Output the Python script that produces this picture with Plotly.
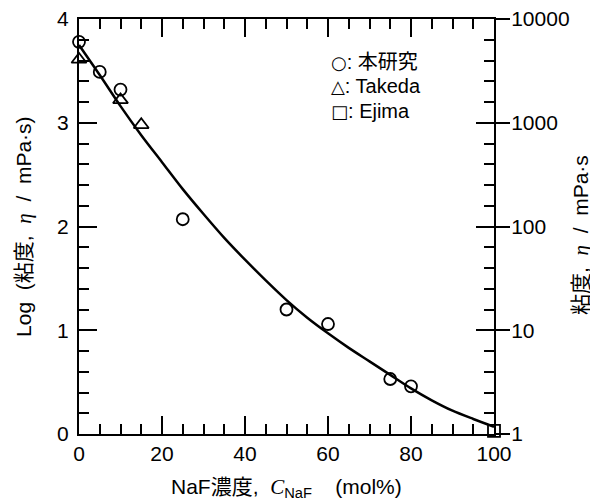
import plotly.graph_objects as go

# Data
this_x = [0, 5, 10, 25, 50, 60, 75, 80]
this_y = [3.78, 3.49, 3.32, 2.07, 1.20, 1.06, 0.53, 0.46]

takeda_x = [0, 10, 15]
takeda_y = [3.61, 3.22, 2.98]

ejima_x = [100]
ejima_y = [0.03]

fit_x = [0, 5, 10, 15, 20, 25, 30, 35, 40, 45, 50, 55, 60, 65, 70, 75, 80, 85, 90, 95, 100]
fit_y = [3.75, 3.46, 3.16, 2.88, 2.62, 2.36, 2.12, 1.89, 1.68, 1.48, 1.29, 1.12, 0.97,
         0.83, 0.70, 0.57, 0.44, 0.325, 0.225, 0.145, 0.07]

left_ticks = [0, 1, 2, 3, 4]
right_ticktext = ["1", "10", "100", "1000", "10000"]
x_ticks = [0, 20, 40, 60, 80, 100]

FONT = "Liberation Sans, Arial, Noto Sans CJK JP, sans-serif"
SERIF_I = "<span style=\"font-family:'Liberation Serif';font-style:italic\">%s</span>"
GLYPH = "<span style=\"font-family:'DejaVu Sans';font-size:18px\">%s</span>"
NB = "\u00a0"

fig = go.Figure()

fig.add_trace(go.Scatter(x=fit_x, y=fit_y, mode="lines",
                         line=dict(color="black", width=2.5, shape="spline", smoothing=0.8),
                         showlegend=False, cliponaxis=False))
fig.add_trace(go.Scatter(x=this_x, y=this_y, mode="markers", name="本研究",
                         marker=dict(symbol="circle-open", size=12, color="black",
                                     line=dict(width=1.8)),
                         showlegend=False, cliponaxis=False))
fig.add_trace(go.Scatter(x=takeda_x, y=takeda_y, mode="markers", name="Takeda",
                         marker=dict(symbol="triangle-up-open", size=13, color="black",
                                     line=dict(width=1.8)),
                         showlegend=False, cliponaxis=False))
fig.add_trace(go.Scatter(x=ejima_x, y=ejima_y, mode="markers", name="Ejima",
                         marker=dict(symbol="square-open", size=12, color="black",
                                     line=dict(width=1.8)),
                         showlegend=False, cliponaxis=False))
# invisible trace to activate the right axis
fig.add_trace(go.Scatter(x=[0], y=[0], yaxis="y2", mode="markers",
                         marker=dict(opacity=0), showlegend=False, hoverinfo="skip"))

axis_common = dict(showline=True, linecolor="black", linewidth=2, showgrid=False,
                   zeroline=False, ticks="inside", tickwidth=2, tickcolor="black",
                   ticklen=18, mirror="ticks", automargin=False, ticklabeloverflow="allow",
                   tickfont=dict(family=FONT, size=21, color="black"))

# page body has an 8px margin, so the figure is sized to fit the 598x501 window
fig.update_layout(
    width=590, height=493,
    margin=dict(l=71, r=104, t=11, b=67),
    paper_bgcolor="white", plot_bgcolor="white",
    font=dict(family=FONT, size=20, color="black"),
    xaxis=dict(range=[0, 100], tickvals=x_ticks,
               minor=dict(dtick=5, ticklen=10, tickwidth=2, ticks="inside", tickcolor="black"),
               **axis_common),
    yaxis=dict(range=[0, 4], tickvals=left_ticks, ticklabelstandoff=4,
               minor=dict(dtick=0.2, ticklen=10, tickwidth=2, ticks="inside", tickcolor="black"),
               **axis_common),
    yaxis2=dict(range=[0, 4], overlaying="y", side="right", anchor="x",
                tickvals=left_ticks, ticktext=right_ticktext, automargin=False,
                ticks="outside", ticklen=15, tickwidth=2, tickcolor="black",
                ticklabelstandoff=-3, ticklabeloverflow="allow",
                showline=False, showgrid=False, zeroline=False,
                tickfont=dict(family=FONT, size=21, color="black")),
)

# axis titles
fig.add_annotation(x=0.5, y=-0.131, xref="paper", yref="paper",
                   text="NaF濃度," + NB + NB + (SERIF_I % "C") + "<sub>NaF</sub>" + NB * 4 + "(mol%)",
                   showarrow=False, xanchor="center", yanchor="middle",
                   font=dict(family=FONT, size=21, color="black"))
fig.add_annotation(x=-0.134, y=0.5, xref="paper", yref="paper",
                   text="Log" + NB + NB + "(粘度," + NB + NB + (SERIF_I % "η") + NB + NB + "/" + NB + NB + "mPa·s)",
                   textangle=-90,
                   showarrow=False, xanchor="center", yanchor="middle",
                   font=dict(family=FONT, size=21, color="black"))
fig.add_annotation(x=1.21, y=0.48, xref="paper", yref="paper",
                   text="粘度," + NB + NB + (SERIF_I % "η") + NB + NB + "/" + NB + NB + "mPa·s",
                   textangle=-90,
                   showarrow=False, xanchor="center", yanchor="middle",
                   font=dict(family=FONT, size=21, color="black"))

legend_rows = [("○", ": 本研究", 3.59), ("△", ": Takeda", 3.35), ("□", ": Ejima", 3.11)]
for g, txt, yv in legend_rows:
    fig.add_annotation(x=60.2, y=yv, xref="x", yref="y", text=(GLYPH % g) + txt,
                       showarrow=False, xanchor="left", yanchor="middle",
                       font=dict(family=FONT, size=20, color="black"))

fig.write_html("out.html")
